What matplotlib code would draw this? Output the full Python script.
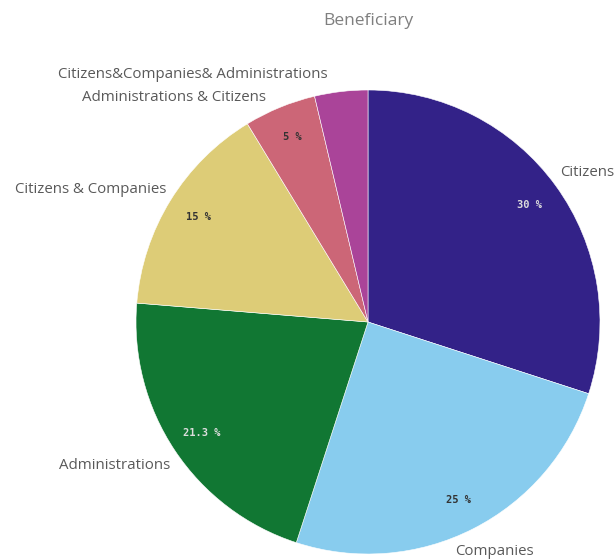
import matplotlib.pyplot as plt
import numpy as np

categories = ['Citizens', 'Companies', 'Administrations', 'Citizens & Companies',
              'Administrations & Citizens', 'Citizens&Companies& Administrations']
shares = [30, 25, 21.3, 15, 5, 3.7]
colors = ['#332288', '#88CCEE', '#117733', '#DDCC77', '#CC6677', '#AA4499']
pct_colors = ['#dddddd', '#333333', '#dddddd', '#333333', '#333333', '#333333']

W, H = 614, 559
cx, cy, R = 368, H - 322, 232

fig = plt.figure(figsize=(W / 100, H / 100), dpi=100)
ax = fig.add_axes([0, 0, 1, 1])

wedges, _ = ax.pie(shares, colors=colors, startangle=90, counterclock=False,
                   center=(cx, cy), radius=R,
                   wedgeprops=dict(edgecolor='white', linewidth=0.4))

# pie() resets the view, so fix pixel-like limits afterwards
ax.set_xlim(0, W)
ax.set_ylim(0, H)
ax.set_aspect('equal')
ax.axis('off')

label_font = ['Open Sans', 'DejaVu Sans']
for w, name, val, pc in zip(wedges, categories, shares, pct_colors):
    mid = np.deg2rad((w.theta1 + w.theta2) / 2)
    c, s = np.cos(mid), np.sin(mid)
    # percentage inside the slice (small slices get none)
    if val >= 5:
        ax.text(cx + 0.86 * R * c, cy + 0.86 * R * s, f'{val:g} %',
                ha='center', va='center', fontsize=7.5, fontweight='bold',
                family='DejaVu Sans Mono', color=pc)
    # category label outside the rim
    lx, ly = cx + 1.04 * R * c, cy + 1.04 * R * s
    ha = 'left' if c > 0.05 else 'right'
    va = 'center'
    if name == 'Companies':
        lx -= 22
        ly -= 15
    elif name == 'Administrations & Citizens':
        lx -= 10
        ly += 1
    elif name.startswith('Citizens&Companies'):
        lx -= 12
        ly += 8
    elif name == 'Administrations':
        lx += 3
        ly -= 10
    elif name == 'Citizens & Companies':
        lx += 4
        ly += 6
    elif name == 'Citizens':
        lx -= 3
        ly += 8
    ax.text(lx, ly, name, ha=ha, va=va, fontsize=10.8, color='#595959',
            family=label_font)

ax.text(cx, H - 21, 'Beneficiary', ha='center', va='center', fontsize=12.5,
        color='#7f7f7f', family=label_font)

fig.savefig('out.png', dpi=100)
